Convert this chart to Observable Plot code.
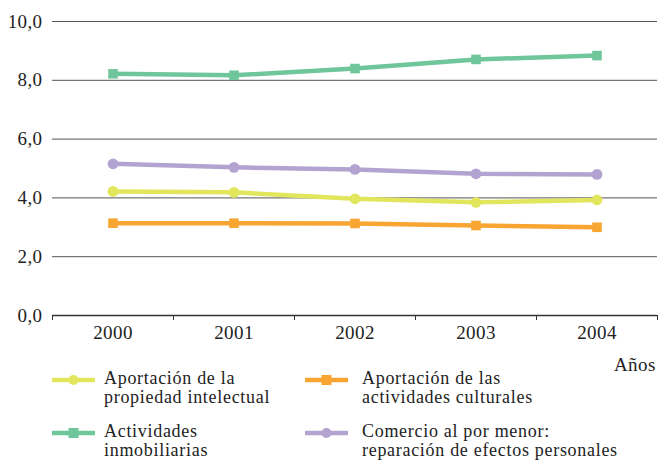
<!DOCTYPE html>
<html><head><meta charset="utf-8">
<script src="https://cdn.jsdelivr.net/npm/d3@7"></script>
<script src="https://cdn.jsdelivr.net/npm/@observablehq/plot@0.6"></script>
<style>
body{margin:0;background:#fff;font-family:"Liberation Serif","Times New Roman","DejaVu Serif",serif;color:#222}
#wrap{position:relative;width:658px;height:461px;overflow:hidden}
#anos{position:absolute;right:2px;top:356px;font-size:19px;line-height:18px;letter-spacing:0.5px}
#legend{position:absolute;left:52px;top:369px;display:grid;grid-template-columns:253px auto;row-gap:15px}
.item{display:flex;align-items:flex-start}
.item svg{flex:none}
.txt{font-size:18px;line-height:19px;margin-left:9px;letter-spacing:0.7px;white-space:nowrap}
.item:nth-child(even) .txt{margin-left:14px}
</style></head><body>
<div id="wrap"><div id="chart"></div><div id="anos">Años</div><div id="legend"></div></div>
<script>
const years = [2000, 2001, 2002, 2003, 2004];
const seriesNames = [
  "Aportación de la propiedad intelectual",
  "Aportación de las actividades culturales",
  "Actividades inmobiliarias",
  "Comercio al por menor: reparación de efectos personales"
];
const legendLines = [
  ["Aportación de la", "propiedad intelectual"],
  ["Aportación de las", "actividades culturales"],
  ["Actividades", "inmobiliarias"],
  ["Comercio al por menor:", "reparación de efectos personales"]
];
const propiedadIntelectual = [4.22, 4.19, 3.97, 3.85, 3.93];
const actividadesCulturales = [3.14, 3.14, 3.13, 3.06, 3.00];
const actividadesInmobiliarias = [8.22, 8.17, 8.40, 8.71, 8.84];
const comercioMenor = [5.16, 5.04, 4.97, 4.82, 4.80];
const yTicks = [0, 2, 4, 6, 8, 10];
const colors = ["#e2e65c", "#f8a532", "#6fc69b", "#b3a3d1"];
const symbols = ["circle", "square", "square", "circle"];

const values = [propiedadIntelectual, actividadesCulturales, actividadesInmobiliarias, comercioMenor];
const data = seriesNames.flatMap((s, i) => years.map((y, j) => ({serie: s, year: y, value: values[i][j]})));
const bounds = [years[0] - 0.5, ...years.map(y => y + 0.5)];
const fmt = d => d.toFixed(1).replace(".", ",");

const chart = Plot.plot({
  width: 658, height: 345,
  marginLeft: 52, marginRight: 1, marginTop: 21, marginBottom: 30,
  style: {fontFamily: "'Liberation Serif','Times New Roman','DejaVu Serif',serif", fontSize: "19px", color: "#222", background: "#fff", letterSpacing: "0.4px"},
  x: {domain: [bounds[0], bounds[bounds.length - 1]]},
  y: {domain: [0, 10]},
  color: {domain: seriesNames, range: colors},
  symbol: {domain: seriesNames, range: symbols},
  marks: [
    Plot.ruleY(yTicks.filter(d => d > 0), {stroke: "#555", strokeWidth: 1}),
    Plot.ruleY([0], {stroke: "#333", strokeWidth: 1.5}),
    Plot.axisY({ticks: yTicks, tickSize: 0, tickPadding: 10, tickFormat: fmt, label: null}),
    Plot.axisX({ticks: years, tickSize: 0, tickPadding: 10, tickFormat: d => String(d), label: null}),
    Plot.axisX({ticks: bounds, tickSize: 5, tickFormat: () => "", label: null, stroke: "#333"}),
    Plot.line(data, {x: "year", y: "value", z: "serie", stroke: "serie", strokeWidth: 4.5}),
    Plot.dot(data, {x: "year", y: "value", fill: "serie", symbol: "serie", r: 5.4})
  ]
});
document.getElementById("chart").appendChild(chart);

const leg = document.getElementById("legend");
seriesNames.forEach((s, i) => {
  const item = document.createElement("div");
  item.className = "item";
  const sym = symbols[i] === "circle"
    ? `<circle cx="21.5" cy="11" r="5" fill="${colors[i]}"/>`
    : `<rect x="16.5" y="6" width="10" height="10" fill="${colors[i]}"/>`;
  item.innerHTML = `<svg width="43" height="18"><line x1="0" x2="43" y1="11" y2="11" stroke="${colors[i]}" stroke-width="4.5"/>${sym}</svg><div class="txt">${legendLines[i].join("<br>")}</div>`;
  leg.appendChild(item);
});
</script>
</body></html>
